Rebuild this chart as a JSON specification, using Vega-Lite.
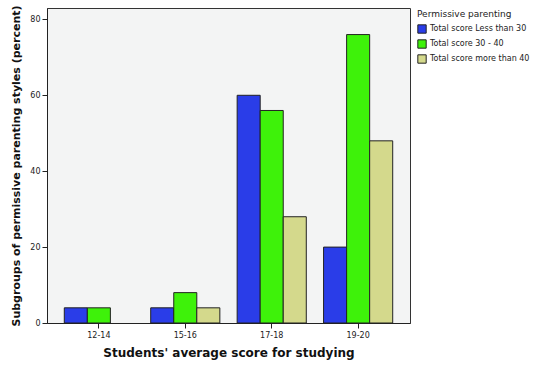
{
  "$schema": "https://vega.github.io/schema/vega-lite/v6.json",
  "width": 363,
  "height": 315,
  "autosize": "none",
  "padding": {"left": 47, "top": 8, "right": 127, "bottom": 45},
  "background": "white",
  "config": {
    "view": {"fill": "#f3f4f4", "stroke": "#333333", "strokeWidth": 1},
    "font": "DejaVu Sans"
  },
  "data": {
    "values": [
      {"score": "12-14", "group": "Total score Less than 30", "percent": 4},
      {"score": "12-14", "group": "Total score 30 - 40", "percent": 4},
      {"score": "15-16", "group": "Total score Less than 30", "percent": 4},
      {"score": "15-16", "group": "Total score 30 - 40", "percent": 8},
      {"score": "15-16", "group": "Total score more than 40", "percent": 4},
      {"score": "17-18", "group": "Total score Less than 30", "percent": 60},
      {"score": "17-18", "group": "Total score 30 - 40", "percent": 56},
      {"score": "17-18", "group": "Total score more than 40", "percent": 28},
      {"score": "19-20", "group": "Total score Less than 30", "percent": 20},
      {"score": "19-20", "group": "Total score 30 - 40", "percent": 76},
      {"score": "19-20", "group": "Total score more than 40", "percent": 48}
    ]
  },
  "mark": {"type": "bar", "stroke": "#222222", "strokeWidth": 1},
  "encoding": {
    "x": {
      "field": "score",
      "type": "nominal",
      "sort": ["12-14", "15-16", "17-18", "19-20"],
      "scale": {"paddingInner": 0.2, "paddingOuter": 0.2},
      "axis": {
        "title": "Students' average score for studying",
        "titleFontSize": 12,
        "titleFontWeight": "bold",
        "titleColor": "#111111",
        "titlePadding": 8,
        "labelAngle": 0,
        "labelFontSize": 8,
        "labelColor": "#222222",
        "tickColor": "#222222",
        "domainColor": "#222222",
        "tickSize": 5,
        "labelPadding": 3
      }
    },
    "xOffset": {
      "field": "group",
      "type": "nominal",
      "sort": ["Total score Less than 30", "Total score 30 - 40", "Total score more than 40"],
      "scale": {"paddingInner": 0, "paddingOuter": 0}
    },
    "y": {
      "field": "percent",
      "type": "quantitative",
      "scale": {"domain": [0, 83], "nice": false},
      "axis": {
        "title": "Subgroups of permissive parenting styles (percent)",
        "titleFontSize": 11,
        "titleFontWeight": "bold",
        "titleColor": "#111111",
        "titlePadding": 8,
        "values": [0, 20, 40, 60, 80],
        "grid": false,
        "labelFontSize": 8,
        "labelColor": "#222222",
        "tickColor": "#222222",
        "domainColor": "#222222",
        "tickSize": 5,
        "labelPadding": 2
      }
    },
    "color": {
      "field": "group",
      "type": "nominal",
      "sort": ["Total score Less than 30", "Total score 30 - 40", "Total score more than 40"],
      "scale": {
        "domain": ["Total score Less than 30", "Total score 30 - 40", "Total score more than 40"],
        "range": ["#2a3de8", "#3ef20a", "#d4d98c"]
      },
      "legend": {
        "title": "Permissive parenting",
        "orient": "none",
        "legendX": 370,
        "legendY": 2,
        "titleFontSize": 9,
        "titleFontWeight": "normal",
        "titleColor": "#222222",
        "labelFontSize": 8,
        "labelColor": "#222222",
        "symbolType": "square",
        "symbolSize": 70,
        "symbolStrokeColor": "#222222",
        "symbolStrokeWidth": 1,
        "rowPadding": 1,
        "labelOffset": 3,
        "titlePadding": 5
      }
    }
  }
}
